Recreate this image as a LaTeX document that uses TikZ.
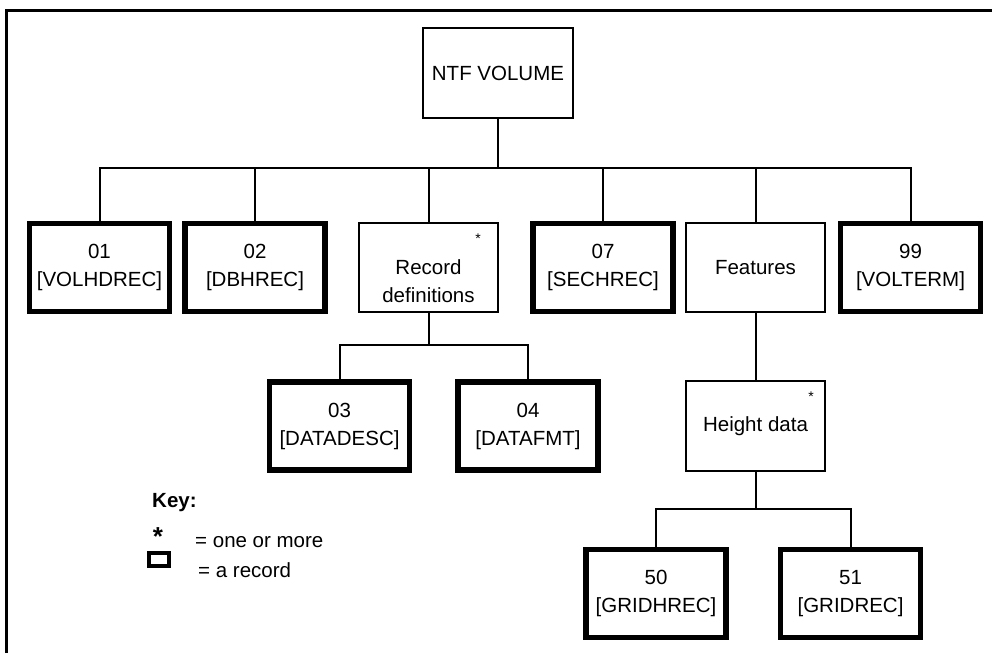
\documentclass[tikz,border=0pt]{standalone}
\usepackage{fontspec}
\setmainfont{Liberation Sans}
\begin{document}
\begin{tikzpicture}[x=1pt,y=-1pt,
  every node/.style={font=\fontsize{20.5}{28}\selectfont, align=center, inner sep=0pt},
  rec/.style={draw, line width=5.5pt, minimum width=140pt, minimum height=88pt},
  grp/.style={draw, line width=2pt, minimum width=139pt, minimum height=89pt},
  top/.style={draw, line width=2pt, minimum width=150pt, minimum height=90pt},
  conn/.style={line width=2pt},
  tinystar/.style={font=\fontsize{14}{14}\selectfont}]
\useasboundingbox (0,0) rectangle (992,653);
% frame
\draw[line width=3pt] (6,653) -- (6,10) -- (992,10);
% nodes
\node[top] (ntf) at (498,73) {NTF VOLUME};
\node[rec] (b01) at (99.5,267.5) {01\\{}[VOLHDREC]};
\node[rec] (b02) at (255,267.5) {02\\{}[DBHREC]};
\node[grp] (rd) at (428.5,267.5) {};
\node (rdt) at (428.5,281) {Record\\definitions};
\node[tinystar] (rds) at (478,239) {*};
\node[rec] (b07) at (603,267.5) {07\\{}[SECHREC]};
\node[grp] (feat) at (755.5,267.5) {Features};
\node[rec] (b99) at (910.5,267.5) {99\\{}[VOLTERM]};
\node[rec] (b03) at (339.5,426) {03\\{}[DATADESC]};
\node[rec] (b04) at (528,426) {04\\{}[DATAFMT]};
\node[grp, minimum height=90pt] (hd) at (755.5,426) {Height data};
\node[tinystar] (hds) at (811,397) {*};
\node[rec] (b50) at (656,593.5) {50\\{}[GRIDHREC]};
\node[rec] (b51) at (850.5,593.5) {51\\{}[GRIDREC]};
% bus coordinates
\coordinate (bus1) at (498,168);
\coordinate (bus2) at (428.5,345);
\coordinate (bus3) at (755.5,509);
% connectors
\draw[conn] (ntf.south) -- (bus1);
\foreach \c in {b01,b02,rd,b07,feat,b99} \draw[conn] (bus1) -| (\c.north);
\draw[conn] (rd.south) -- (bus2);
\foreach \c in {b03,b04} \draw[conn] (bus2) -| (\c.north);
\draw[conn] (feat.south) -- (hd.north);
\draw[conn] (hd.south) -- (bus3);
\foreach \c in {b50,b51} \draw[conn] (bus3) -| (\c.north);
% key
\node[anchor=west, font=\bfseries\fontsize{20.5}{24}\selectfont] (key) at (152,503) {Key:};
\node[font=\bfseries\fontsize{26}{26}\selectfont] (kstar) at (158,537) {*};
\node[anchor=west] (k1) at (195,542) {= one or more};
\node[draw, line width=4pt, minimum width=20pt, minimum height=13pt] (kbox) at (159,559.5) {};
\node[anchor=west] (k2) at (198,570) {= a record};
\end{tikzpicture}
\end{document}
